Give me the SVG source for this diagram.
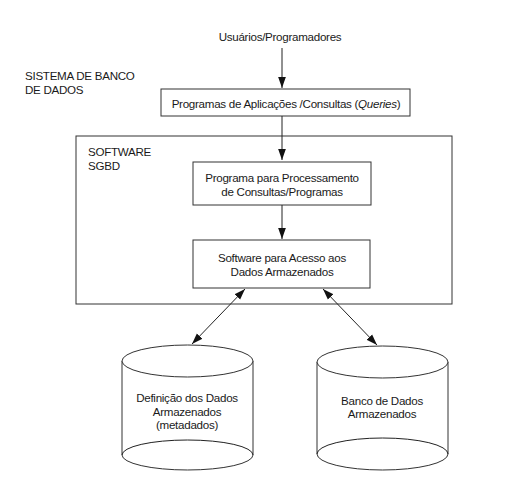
<svg xmlns="http://www.w3.org/2000/svg" width="515" height="485" viewBox="0 0 515 485">
<style>
text{font-family:"Liberation Sans",Arial,sans-serif;font-size:11.6px;fill:#1a1a1a;letter-spacing:-0.28px}
.c{text-anchor:middle}
.box{fill:#fff;stroke:#333;stroke-width:1}
.ln{stroke:#222;stroke-width:1;fill:none}
</style>
<defs>
<marker id="ah" viewBox="0 0 10 10" refX="10" refY="5" markerWidth="11" markerHeight="11" markerUnits="userSpaceOnUse" orient="auto-start-reverse">
<path d="M0,1.5 L10,5 L0,8.5 Z" fill="#111"/>
</marker>
</defs>
<rect width="515" height="485" fill="#fff"/>
<g id="users"><text class="c" x="280" y="41">Usuários/Programadores</text></g>
<g id="sistema"><text x="25" y="80">SISTEMA DE BANCO<tspan x="25" dy="13.5">DE DADOS</tspan></text></g>
<g id="sgbd">
<rect class="box" x="76" y="136" width="376" height="168"/>
<text x="88" y="156">SOFTWARE<tspan x="88" dy="13.5">SGBD</tspan></text>
</g>
<g id="apps">
<rect class="box" x="161" y="89" width="249" height="27"/>
<text class="c" x="286" y="108">Programas de Aplicações /Consultas (<tspan font-style="italic">Queries</tspan>)</text>
</g>
<g id="proc">
<rect class="box" x="193" y="162" width="178" height="43"/>
<text class="c" x="282" y="182">Programa para Processamento<tspan x="282" dy="13.5">de Consultas/Programas</tspan></text>
</g>
<g id="acesso">
<rect class="box" x="193" y="240" width="177" height="48"/>
<text class="c" x="282" y="262">Software para Acesso aos<tspan x="282" dy="13.5">Dados Armazenados</tspan></text>
</g>
<g id="meta">
<path class="box" d="M122,361 L122,455 A65.5,15 0 0 0 253,455 L253,361"/>
<ellipse class="box" cx="187.5" cy="361" rx="65.5" ry="16"/>
<path class="ln" d="M122,455 A65.5,15 0 0 1 253,455"/>
<text class="c" x="187" y="402">Definição dos Dados<tspan x="187" dy="13.5">Armazenados</tspan><tspan x="187" dy="13.5">(metadados)</tspan></text>
</g>
<g id="db">
<path class="box" d="M317,362 L317,454 A65.5,16 0 0 0 448,454 L448,362"/>
<ellipse class="box" cx="382.5" cy="362" rx="65.5" ry="16"/>
<path class="ln" d="M317,454 A65.5,16 0 0 1 448,454"/>
<text class="c" x="382" y="405">Banco de Dados<tspan x="382" dy="13">Armazenados</tspan></text>
</g>
<g id="connectors">
<line class="ln" x1="282" y1="48" x2="282" y2="88" marker-end="url(#ah)"/>
<line class="ln" x1="282" y1="116" x2="282" y2="160" marker-end="url(#ah)"/>
<line class="ln" x1="282" y1="205" x2="282" y2="239" marker-end="url(#ah)"/>
<line class="ln" x1="192" y1="344" x2="245" y2="289" marker-start="url(#ah)" marker-end="url(#ah)"/>
<line class="ln" x1="377" y1="345" x2="323" y2="289" marker-start="url(#ah)" marker-end="url(#ah)"/>
</g>
</svg>
